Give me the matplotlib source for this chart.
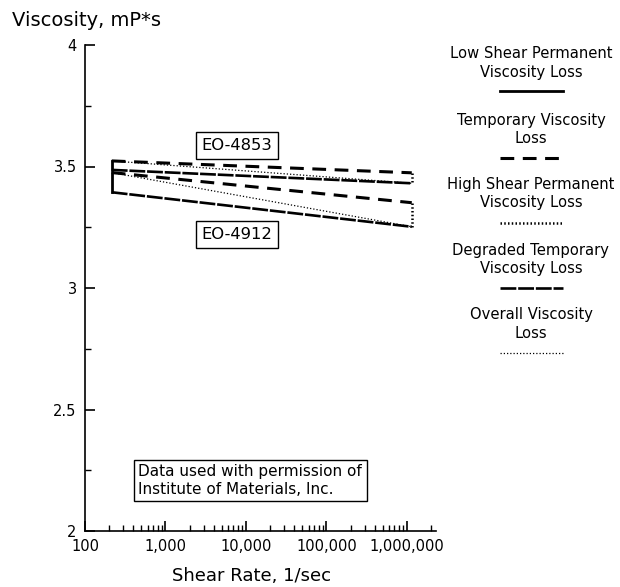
import matplotlib
matplotlib.use("Agg")
import matplotlib.pyplot as plt
from matplotlib.lines import Line2D
from matplotlib.ticker import FixedLocator, FuncFormatter, LogLocator, NullFormatter

plt.rcParams['font.family'] = ['DejaVu Sans']

# ---- data ----
shear_rate = [215, 1.15e6]                  # 1/sec, low-shear and high-shear ends
eo4853_fresh = [3.523, 3.474]               # temporary viscosity loss line
eo4853_used = [3.486, 3.431]                # degraded temporary viscosity loss line
eo4912_fresh = [3.475, 3.351]
eo4912_used = [3.394, 3.252]
oil_labels = ["EO-4853", "EO-4912"]
legend_labels = ["Low Shear Permanent\nViscosity Loss",
                 "Temporary Viscosity\nLoss",
                 "High Shear Permanent\nViscosity Loss",
                 "Degraded Temporary\nViscosity Loss",
                 "Overall Viscosity\nLoss"]
x_ticks = [100, 1000, 10000, 100000, 1000000]
y_ticks = [2, 2.5, 3, 3.5, 4]

styles = {
    'low':  dict(color='black', lw=2.0, linestyle='-'),
    'temp': dict(color='black', lw=2.2, linestyle=(0, (4.5, 2.8))),
    'high': dict(color='black', lw=1.8, linestyle=(0, (0.6, 0.9))),
    'degr': dict(color='black', lw=1.9, linestyle=(0, (6, 0.7))),
    'over': dict(color='black', lw=0.9, linestyle=(0, (1, 1.6))),
}

fig = plt.figure(figsize=(6.2, 5.87), dpi=100)
W, H = 620, 587
ax = fig.add_axes([85 / W, 1 - 531 / H, (436 - 85) / W, (531 - 45) / H])

ax.set_xscale('log')
ax.set_xlim(100, 2.3e6)
ax.set_ylim(2, 4)

for fresh, used in [(eo4853_fresh, eo4853_used), (eo4912_fresh, eo4912_used)]:
    ax.plot(shear_rate, fresh, **styles['temp'])
    ax.plot(shear_rate, used, **styles['degr'])
    ax.plot([shear_rate[0], shear_rate[0]], [fresh[0], used[0]], **styles['low'])
    ax.plot([shear_rate[1], shear_rate[1]], [fresh[1], used[1]], **styles['high'])
    ax.plot(shear_rate, [fresh[0], used[1]], **styles['over'])

box = dict(boxstyle='square,pad=0.35', fc='white', ec='black', lw=1.0)
ax.text(0.433, 0.793, oil_labels[0], transform=ax.transAxes, ha='center', va='center',
        fontsize=11.8, bbox=box)
ax.text(0.433, 0.610, oil_labels[1], transform=ax.transAxes, ha='center', va='center',
        fontsize=11.8, bbox=box)
ax.text(0.152, 0.104, "Data used with permission of\nInstitute of Materials, Inc.",
        transform=ax.transAxes, ha='left', va='center', fontsize=11, linespacing=1.2,
        bbox=dict(boxstyle='square,pad=0.3', fc='white', ec='black', lw=1.0))

for s in ['top', 'right']:
    ax.spines[s].set_visible(False)
for s in ['left', 'bottom']:
    ax.spines[s].set_linewidth(1.2)

ax.xaxis.set_major_locator(FixedLocator(x_ticks))
ax.xaxis.set_major_formatter(FuncFormatter(lambda v, p: f"{int(round(v)):,}"))
ax.xaxis.set_minor_locator(LogLocator(base=10, subs=range(2, 10)))
ax.xaxis.set_minor_formatter(NullFormatter())
ax.yaxis.set_major_locator(FixedLocator(y_ticks))
ax.yaxis.set_major_formatter(FuncFormatter(lambda v, p: f"{v:g}"))
ax.yaxis.set_minor_locator(FixedLocator([2.25, 2.75, 3.25, 3.75]))
ax.tick_params(axis='both', which='major', direction='in', length=7, width=1.2,
               labelsize=10.5, pad=6)
ax.tick_params(axis='both', which='minor', direction='in', length=4, width=1.0)

fig.text(12 / W, 1 - 20 / H, "Viscosity, mP*s", ha='left', va='center', fontsize=14)
fig.text(252 / W, 1 - 576 / H, "Shear Rate, 1/sec", ha='center', va='center', fontsize=13)

# legend (custom layout: text above sample line)
cx = 531 / W
text_y = [63, 129, 194, 260, 324]
line_y = [91, 158, 223, 288, 353]
keys = ['low', 'temp', 'high', 'degr', 'over']
for lab, ty, ly, k in zip(legend_labels, text_y, line_y, keys):
    fig.text(cx, 1 - ty / H, lab, ha='center', va='center', fontsize=10.6, linespacing=1.25)
    fig.add_artist(Line2D([500 / W, 563 / W], [1 - ly / H, 1 - ly / H],
                          transform=fig.transFigure, **styles[k]))

fig.savefig("out.png", dpi=100)
